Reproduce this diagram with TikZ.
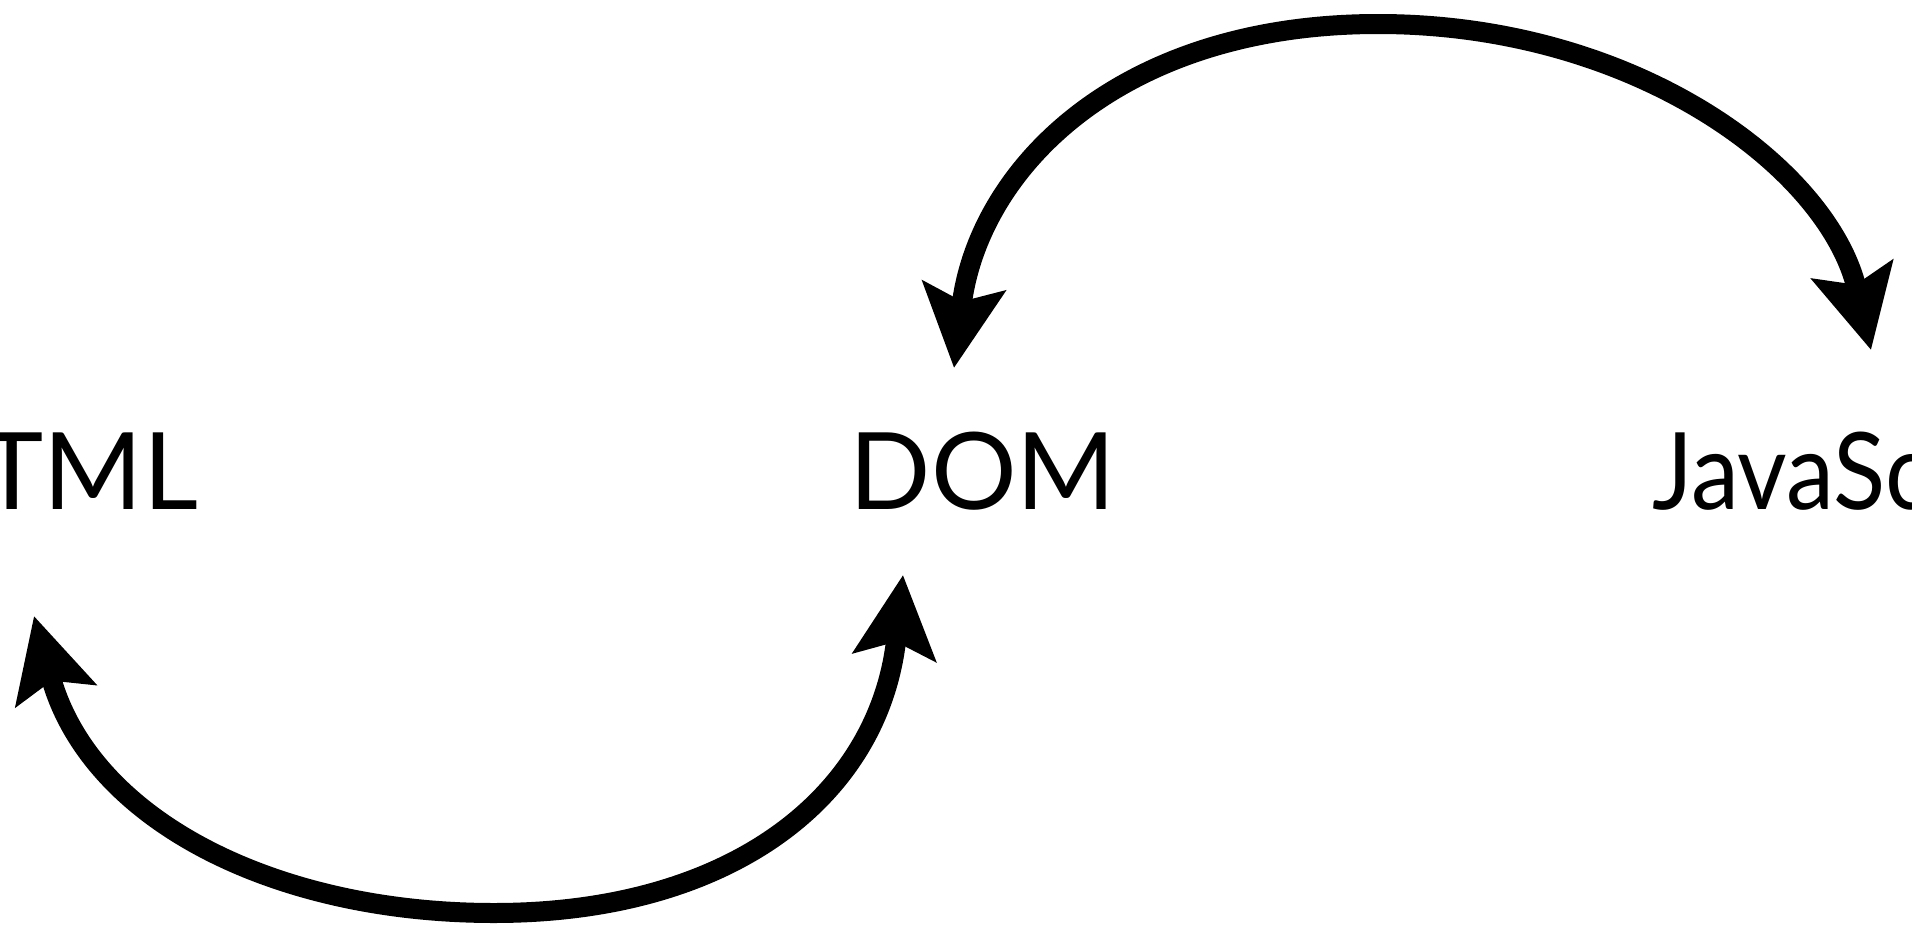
\documentclass[tikz,border=0pt]{standalone}
\usepackage{fontspec}
\setmainfont{Lato}
\newfontfamily\narrowlato{Lato}[FakeStretch=0.9]
\usetikzlibrary{arrows.meta}
\begin{document}
\begin{tikzpicture}[x=1pt,y=-1pt,
  lbl/.style={font=\fontsize{107}{110}\selectfont, inner sep=0pt},
  headtip/.tip={Stealth[length=82pt,width=82pt,inset=15pt]},
  conn/.style={line width=20pt, headtip-headtip}]
\useasboundingbox (0,0) rectangle (1912,932);
\node[lbl, anchor=base east] (html) at (198,509) {HTML};
\node[lbl, anchor=base] (dom) at (983,509) {DOM};
\node[lbl, anchor=base west, font=\fontsize{107}{110}\narrowlato] (js) at (1652,509) {JavaScript};
\coordinate (domtop) at (954,368);
\coordinate (jstip) at (1871,350);
\coordinate (htmltip) at (34,616);
\coordinate (dombot) at (903,575);
\coordinate (topmid) at (1378,24);
\coordinate (botmid) at (494,913);
\draw[conn] (domtop) .. controls (978,170) and (1118,24) .. (topmid)
  .. controls (1638,24) and (1829,170) .. (jstip);
\draw[conn] (htmltip) .. controls (90,820) and (274,913) .. (botmid)
  .. controls (734,913) and (880,794) .. (dombot);
\end{tikzpicture}
\end{document}
